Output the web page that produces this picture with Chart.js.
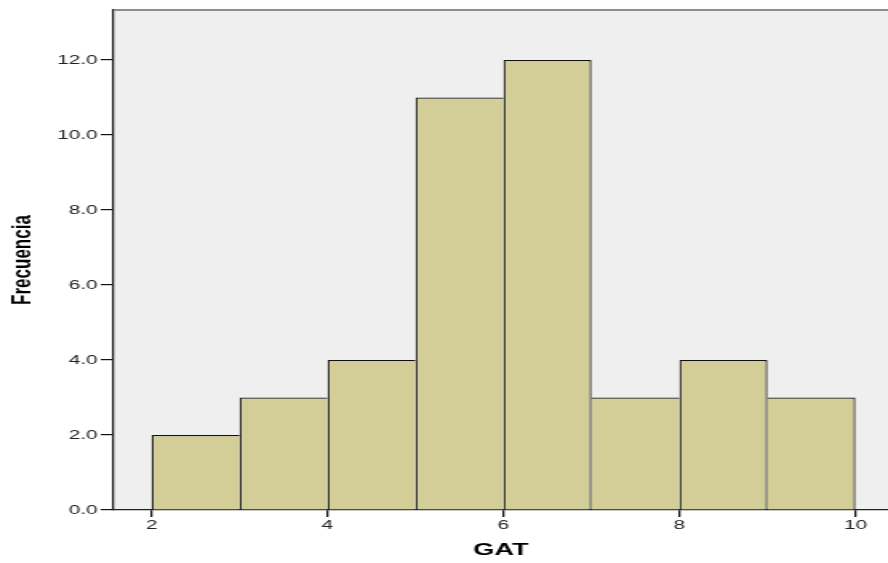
<!DOCTYPE html>
<html>
<head>
<meta charset="utf-8">
<script src="https://cdn.jsdelivr.net/npm/chart.js@4/dist/chart.umd.min.js"></script>
<style>
  html, body { margin: 0; padding: 0; background: #fff; }
  /* the reference is a stretched SPSS export, so draw narrow and stretch */
  #gatChart { display: block; width: 888px; height: 563px; }
</style>
</head>
<body>
<canvas id="gatChart" width="555" height="563" style="width:888px;height:563px"></canvas>
<script>
// histogram bins (centres) and counts
const binCenters = [2.5, 3.5, 4.5, 5.5, 6.5, 7.5, 8.5, 9.5];
const counts = [2, 3, 4, 11, 12, 3, 4, 3];
const xTicks = [2, 4, 6, 8, 10];
const yTicks = [0, 2, 4, 6, 8, 10, 12];

const plotBg = {
    id: 'plotBg',
    beforeDraw(chart) {
        const a = chart.chartArea;
        const ctx = chart.ctx;
        ctx.save();
        ctx.fillStyle = '#efefef';
        ctx.fillRect(a.left, a.top, a.right - a.left, a.bottom - a.top);
        ctx.restore();
    },
    afterDraw(chart) {
        const a = chart.chartArea;
        const ctx = chart.ctx;
        ctx.save();
        ctx.strokeStyle = '#8c8c8c';
        ctx.lineWidth = 2;
        ctx.beginPath();
        ctx.moveTo(a.left, a.top);
        ctx.lineTo(a.right, a.top);
        ctx.stroke();
        ctx.restore();
    }
};

// shared edge between two bars is drawn by the taller one
function barBorder(c) {
    const i = c.dataIndex;
    const last = counts.length - 1;
    const w = 1.2;
    return {
        top: w,
        bottom: 0,
        left: (i === 0 || counts[i - 1] <= counts[i]) ? w : 0,
        right: (i === last || counts[i + 1] < counts[i]) ? w : 0
    };
}

const ctx = document.getElementById('gatChart').getContext('2d');
new Chart(ctx, {
    type: 'bar',
    data: {
        datasets: [{
            data: binCenters.map((x, i) => ({ x: x, y: counts[i] })),
            backgroundColor: '#d3ce97',
            borderColor: '#111111',
            borderSkipped: false,
            inflateAmount: 0,
            borderWidth: barBorder,
            barPercentage: 1,
            categoryPercentage: 1
        }]
    },
    options: {
        responsive: false,
        devicePixelRatio: 1,
        animation: false,
        layout: { padding: { top: 10, right: 0, bottom: 0, left: 0 } },
        plugins: {
            legend: { display: false },
            tooltip: { enabled: false }
        },
        scales: {
            x: {
                type: 'linear',
                offset: false,
                min: 1.568,
                max: 10.37,
                afterBuildTicks: s => { s.ticks = xTicks.map(v => ({ value: v })); },
                afterFit: s => { s.height = 53; },
                grid: { offset: false, drawOnChartArea: false, color: '#111', lineWidth: 1.3, tickLength: 7 },
                border: { color: '#222', width: 1.2 },
                ticks: {
                    padding: 1,
                    color: '#222',
                    font: { family: 'Liberation Sans, Arial, sans-serif', size: 13 },
                    callback: v => String(v)
                },
                title: {
                    display: true,
                    text: 'GAT',
                    color: '#000',
                    padding: { top: 0, bottom: 2 },
                    font: { family: 'Liberation Sans, Arial, sans-serif', size: 17, weight: 'bold' }
                }
            },
            y: {
                min: 0,
                max: 13.333,
                afterBuildTicks: s => { s.ticks = yTicks.map(v => ({ value: v })); },
                afterFit: s => { s.width = 71; },
                grid: { drawOnChartArea: false, color: '#111', lineWidth: 1.2, tickLength: 8 },
                border: { color: '#222', width: 1.3 },
                ticks: {
                    padding: 2,
                    color: '#222',
                    font: { family: 'Liberation Sans, Arial, sans-serif', size: 13 },
                    callback: v => v.toFixed(1)
                },
                title: {
                    display: true,
                    text: 'Frecuencia',
                    color: '#000',
                    padding: { top: 4, bottom: 0 },
                    font: { family: 'Liberation Sans, Arial, sans-serif', size: 17, weight: 'bold' }
                }
            }
        }
    },
    plugins: [plotBg]
});
</script>
</body>
</html>
